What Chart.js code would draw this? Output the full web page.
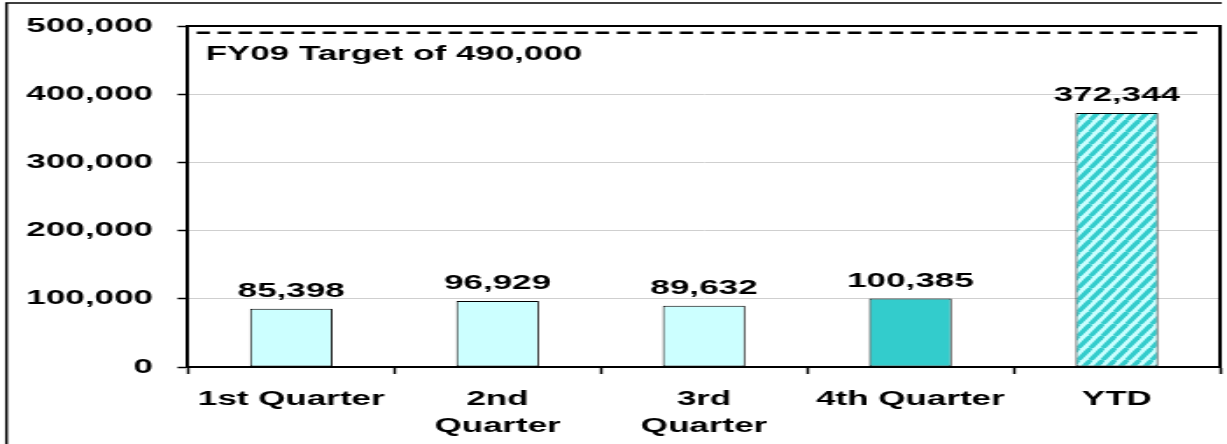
<!DOCTYPE html>
<html lang="en">
<head>
<meta charset="UTF-8">
<meta name="viewport" content="width=device-width, initial-scale=1.0">
<title>FY09 quarterly totals</title>
<script src="https://cdn.jsdelivr.net/npm/chart.js"></script>
<style>
  html, body { margin: 0; padding: 0; background: #fff; overflow: hidden; }
</style>
</head>
<body>
<!-- chart is drawn narrow and stretched sideways -->
<canvas id="myChart" width="701" height="444" style="display:block;width:1227px;height:444px"></canvas>

<script>
// data
const labels = ['1st Quarter', ['2nd', 'Quarter'], ['3rd', 'Quarter'], '4th Quarter', 'YTD'];
const values = [85398, 96929, 89632, 100385, 372344];
const yTicks = [0, 100000, 200000, 300000, 400000, 500000];
const target = 490000;
const targetLabel = 'FY09 Target of 490,000';

const FONT = "'Liberation Sans', Arial, Helvetica, sans-serif";

// diagonal stripes for the YTD bar
function makeHatch() {
  const w = 7, h = 12;
  const c = document.createElement('canvas');
  c.width = w; c.height = h;
  const g = c.getContext('2d');
  g.fillStyle = '#ccffff';
  g.fillRect(0, 0, w, h);
  g.strokeStyle = '#33cccc';
  g.lineWidth = 3.2;
  for (const dx of [-w, 0, w]) {
    g.beginPath();
    g.moveTo(dx, h);
    g.lineTo(dx + w, 0);
    g.stroke();
  }
  return g.createPattern(c, 'repeat');
}

const fills = ['#ccffff', '#ccffff', '#ccffff', '#33cccc', makeHatch()];

function fmt(v) {
  return v.toLocaleString('en-US');
}

// outer frame, plot top/right edges and the target line
const decorations = {
  id: 'decorations',
  afterDraw(chart) {
    const ctx = chart.ctx;
    const a = chart.chartArea;
    const y = chart.scales.y;
    ctx.save();
    ctx.strokeStyle = '#000';

    ctx.lineWidth = 1.5;
    ctx.beginPath();
    ctx.moveTo(3.7, chart.height);
    ctx.lineTo(3.7, 3);
    ctx.lineTo(698, 3);
    ctx.stroke();

    ctx.lineWidth = 2;
    ctx.beginPath();
    ctx.moveTo(a.left, a.top);
    ctx.lineTo(a.right, a.top);
    ctx.lineTo(a.right, a.bottom);
    ctx.stroke();

    const ty = y.getPixelForValue(target);
    ctx.lineWidth = 2.5;
    ctx.setLineDash([7.5, 4.5]);
    ctx.beginPath();
    ctx.moveTo(a.left + 5, ty);
    ctx.lineTo(a.right - 10, ty);
    ctx.stroke();
    ctx.setLineDash([]);

    ctx.fillStyle = '#000';
    ctx.font = 'bold 20px ' + FONT;
    ctx.textAlign = 'left';
    ctx.textBaseline = 'alphabetic';
    ctx.fillText(targetLabel, a.left + 10, a.top + 34);
    ctx.restore();
  }
};

// value above each bar
const barValues = {
  id: 'barValues',
  afterDatasetsDraw(chart) {
    const ctx = chart.ctx;
    const meta = chart.getDatasetMeta(0);
    ctx.save();
    ctx.fillStyle = '#000';
    ctx.font = 'bold 20px ' + FONT;
    ctx.textAlign = 'center';
    ctx.textBaseline = 'alphabetic';
    meta.data.forEach((bar, i) => {
      ctx.fillText(fmt(values[i]), bar.x, bar.y - 12);
    });
    ctx.restore();
  }
};

Chart.defaults.font.family = FONT;
Chart.defaults.font.weight = 'bold';
Chart.defaults.font.size = 20;
Chart.defaults.color = '#000';

const config = {
  type: 'bar',
  data: {
    labels: labels,
    datasets: [{
      data: values,
      backgroundColor: fills,
      borderColor: '#000',
      borderWidth: 1,
      borderSkipped: false,
      categoryPercentage: 1,
      barPercentage: 0.4
    }]
  },
  options: {
    responsive: false,
    animation: false,
    layout: { padding: { left: 0, top: 22, right: 4, bottom: 0 } },
    plugins: {
      legend: { display: false },
      tooltip: { enabled: false }
    },
    scales: {
      x: {
        grid: {
          drawOnChartArea: false,
          drawTicks: true,
          tickLength: 7,
          tickColor: '#000',
          tickWidth: 1.5
        },
        border: { color: '#000', width: 2 },
        ticks: {
          padding: 12,
          maxRotation: 0,
          autoSkip: false,
          font: { size: 20, weight: 'bold', lineHeight: 1.35 }
        },
        afterFit(scale) { scale.height = 77; }
      },
      y: {
        min: 0,
        max: 500000,
        afterBuildTicks(scale) {
          scale.ticks = yTicks.map(v => ({ value: v }));
        },
        grid: {
          color: '#cfcfcf',
          lineWidth: 1,
          drawTicks: true,
          tickLength: 6,
          tickColor: '#000',
          tickWidth: 1.5
        },
        border: { color: '#000', width: 2 },
        ticks: {
          padding: 14,
          font: { size: 20, weight: 'bold' },
          callback: v => fmt(v)
        },
        afterFit(scale) { scale.width = 107.4; }
      }
    }
  },
  plugins: [decorations, barValues]
};

const myChart = new Chart(document.getElementById('myChart'), config);
</script>
</body>
</html>
